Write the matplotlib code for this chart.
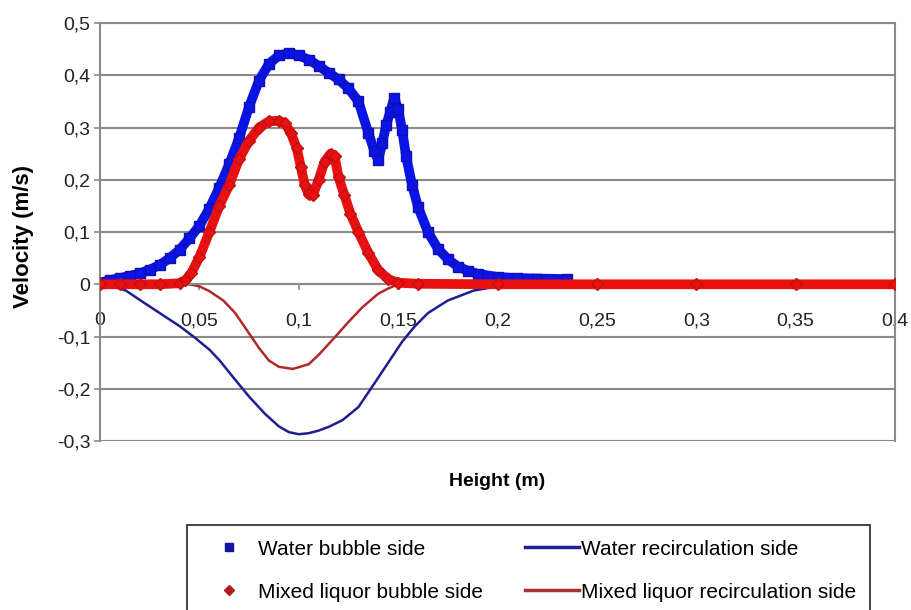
import numpy as np
import matplotlib.pyplot as plt
from matplotlib.ticker import FuncFormatter

plt.rcParams['font.family'] = ['Liberation Sans', 'DejaVu Sans']

# Water, bubble side (blue squares)
water_bubble_x = [0, 0.005, 0.01, 0.015, 0.02, 0.025, 0.03, 0.035, 0.04, 0.045,
                  0.05, 0.055, 0.06, 0.065, 0.07, 0.075, 0.08, 0.085, 0.09, 0.095,
                  0.1, 0.105, 0.11, 0.115, 0.12, 0.125, 0.13, 0.135, 0.138, 0.14,
                  0.142, 0.144, 0.146, 0.148, 0.15, 0.152, 0.154, 0.157, 0.16, 0.165,
                  0.17, 0.175, 0.18, 0.185, 0.19, 0.2, 0.21, 0.22, 0.235]
water_bubble_y = [0.003, 0.008, 0.012, 0.016, 0.021, 0.028, 0.037, 0.05, 0.066, 0.088,
                  0.112, 0.145, 0.185, 0.23, 0.28, 0.34, 0.39, 0.422, 0.438, 0.442,
                  0.438, 0.43, 0.418, 0.405, 0.392, 0.375, 0.35, 0.29, 0.255, 0.238,
                  0.27, 0.305, 0.33, 0.357, 0.335, 0.295, 0.245, 0.19, 0.148, 0.1,
                  0.068, 0.048, 0.034, 0.026, 0.02, 0.014, 0.012, 0.011, 0.01]

# Mixed liquor, bubble side (red diamonds)
mixed_bubble_x = [0, 0.01, 0.02, 0.03, 0.04, 0.043, 0.046, 0.05, 0.055, 0.06,
                  0.065, 0.07, 0.075, 0.08, 0.085, 0.09, 0.093, 0.096, 0.099, 0.101,
                  0.103, 0.105, 0.107, 0.11, 0.113, 0.116, 0.118, 0.12, 0.123, 0.126,
                  0.13, 0.135, 0.14, 0.145, 0.15, 0.16, 0.2, 0.25, 0.3, 0.35, 0.4]
mixed_bubble_y = [0, 0, 0, 0, 0.002, 0.008, 0.022, 0.052, 0.1, 0.15,
                  0.19, 0.24, 0.275, 0.3, 0.312, 0.313, 0.308, 0.29, 0.26, 0.225,
                  0.19, 0.172, 0.17, 0.2, 0.235, 0.25, 0.245, 0.205, 0.17, 0.135,
                  0.1, 0.06, 0.027, 0.01, 0.003, 0.001, 0, 0, 0, 0, 0]

# Water, recirculation side (navy line)
water_recirc_x = [0, 0.005, 0.013, 0.02, 0.03, 0.04, 0.047, 0.055, 0.06, 0.067,
                  0.075, 0.083, 0.09, 0.095, 0.1, 0.105, 0.11, 0.115, 0.122, 0.13,
                  0.138, 0.145, 0.152, 0.158, 0.165, 0.175, 0.188, 0.2, 0.21, 0.4]
water_recirc_y = [0, -0.002, -0.012, -0.03, -0.055, -0.08, -0.1, -0.125, -0.145, -0.178,
                  -0.215, -0.248, -0.272, -0.283, -0.287, -0.285, -0.28, -0.273, -0.26, -0.235,
                  -0.19, -0.15, -0.11, -0.082, -0.055, -0.031, -0.012, -0.004, 0, 0]

# Mixed liquor, recirculation side (dark red line)
mixed_recirc_x = [0, 0.045, 0.05, 0.055, 0.062, 0.068, 0.075, 0.08, 0.085, 0.09,
                  0.097, 0.105, 0.11, 0.118, 0.125, 0.132, 0.14, 0.145, 0.15, 0.4]
mixed_recirc_y = [0, 0, -0.004, -0.013, -0.031, -0.055, -0.094, -0.122, -0.146, -0.158,
                  -0.162, -0.153, -0.135, -0.102, -0.072, -0.044, -0.018, -0.008, 0, 0]

x_ticks = [0, 0.05, 0.1, 0.15, 0.2, 0.25, 0.3, 0.35, 0.4]
y_ticks = [-0.3, -0.2, -0.1, 0, 0.1, 0.2, 0.3, 0.4, 0.5]

# decimal comma like the original
comma = FuncFormatter(lambda v, pos: ('%g' % round(v, 3)).replace('.', ','))

fig = plt.figure(figsize=(9.11, 6.10), dpi=100)
ax = fig.add_axes([0.1098, 0.2770, 0.8727, 0.6852])

grey = '#8a8a8a'
# spine position first, it resets the tick setup
ax.spines['bottom'].set_position(('data', 0))
for s in ax.spines.values():
    s.set_color(grey)
    s.set_linewidth(1.5)

ax.set_xlim(0, 0.4)
ax.set_ylim(-0.3, 0.5)
ax.set_yticks(y_ticks)
ax.set_xticks(x_ticks)
ax.xaxis.set_major_formatter(comma)
ax.yaxis.set_major_formatter(comma)
ax.grid(axis='y', color=grey, lw=1.5)
ax.set_axisbelow(True)
ax.tick_params(axis='y', length=4, width=1.2, color=grey, pad=3,
               labelsize=14, labelcolor='#222222')
ax.tick_params(axis='x', length=4, width=1.2, color=grey, pad=16,
               labelsize=14, labelcolor='#222222')

# recirculation lines
ax.plot(water_recirc_x, water_recirc_y, color='#1f1f8f', lw=1.8, zorder=2)
ax.plot(mixed_recirc_x, mixed_recirc_y, color='#b02a2a', lw=1.8, zorder=2)

# bubble side: thick band plus markers
ax.plot(water_bubble_x, water_bubble_y, color='#0a14e6', lw=7, zorder=3)
ax.plot(water_bubble_x, water_bubble_y, ls='none', marker='s', ms=7,
        color='#0a14e6', mec='#1010b0', zorder=3)
ax.plot(mixed_bubble_x, mixed_bubble_y, color='#e81010', lw=7, zorder=4)
ax.plot(mixed_bubble_x, mixed_bubble_y, ls='none', marker='D', ms=6,
        color='#e81010', mec='#c01010', zorder=4)

fig.text(23 / 911, 1 - 236 / 610, 'Velocity (m/s)', rotation=90, fontsize=16,
         fontweight='bold', ha='center', va='center')
fig.text(497 / 911, 1 - 482 / 610, 'Height (m)', fontsize=14,
         fontweight='bold', ha='center', va='center')

# legend
h_wb = plt.Line2D([], [], ls='none', marker='s', ms=6, color='#1414a0')
h_mb = plt.Line2D([], [], ls='none', marker='D', ms=5, color='#b01c1c')
h_wr = plt.Line2D([], [], color='#1f1f8f', lw=2.5)
h_mr = plt.Line2D([], [], color='#a83030', lw=2.5)
leg = fig.legend([h_wb, h_mb, h_wr, h_mr],
                 ['Water bubble side', 'Mixed liquor bubble side',
                  'Water recirculation side', 'Mixed liquor recirculation side'],
                 ncol=2, loc='upper left', bbox_to_anchor=(187 / 911, 1 - 525 / 610),
                 borderaxespad=0, borderpad=0.7, fontsize=15, handlelength=2.6,
                 handletextpad=0.1, columnspacing=2.0, labelspacing=1.15,
                 fancybox=False, framealpha=1)
leg.get_frame().set_edgecolor('#222222')
leg.get_frame().set_linewidth(1.2)

fig.savefig('out.png', dpi=100)
